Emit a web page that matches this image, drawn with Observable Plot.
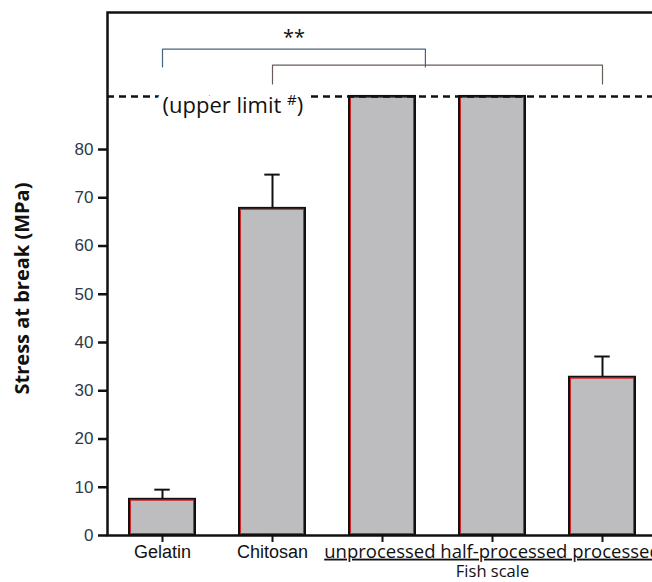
<!DOCTYPE html>
<html><head><meta charset="utf-8">
<script src="https://cdn.jsdelivr.net/npm/d3@7"></script>
<script src="https://cdn.jsdelivr.net/npm/@observablehq/plot@0.6"></script>
<style>
html,body{margin:0;padding:0;background:#fff;overflow:hidden;}
#chart{width:652px;height:582px;overflow:hidden;}
</style></head><body><div id="chart"></div>
<script>
const categories = ["Gelatin", "Chitosan", "unprocessed", "half-processed", "processed"];
const values = [7.5, 67.8, 91, 91, 32.8];
const errors = [2.0, 7.0, null, null, 4.3];
const yTicks = [0, 10, 20, 30, 40, 50, 60, 70, 80];
const upperLimit = 91;
const yMax = 108.4;
const groupLabel = "Fish scale";
const fishGroup = ["unprocessed", "half-processed", "processed"];
const bracketFrom = [0, 1];
const bracketTo = [2.39, 4];
const bracketTop = [100.8, 97.5];
const bracketEnd = [97.1, 93.6];
const bracketColors = ["#46657d", "#6a5c5a"];
const significance = "**";
const yLabel = "Stress at break (MPa)";
const limitLabel = "(upper limit #)";

const bars = categories.map((c, i) => ({i, c, v: values[i], e: errors[i]}));
const errBars = bars.filter(d => d.e != null);
const bracketPts = [];
bracketFrom.forEach((f, k) => {
  const t = bracketTo[k];
  [[f, bracketEnd[k]], [f, bracketTop[k]], [t, bracketTop[k]], [t, bracketEnd[k]]]
    .forEach(([x, y]) => bracketPts.push({b: k, x, y, color: bracketColors[k]}));
});
const fishIdx = categories.indexOf(fishGroup[Math.floor(fishGroup.length / 2)]);
const limitText = {x: 0, y: upperLimit, text: d => d, textAnchor: "start", lineAnchor: "middle", dy: 9.5,
  fontSize: 22, fontFamily: "'Open Sans', sans-serif"};

const chart = Plot.plot({
  width: 660,
  height: 582,
  marginLeft: 107,
  marginRight: 3,
  marginTop: 12,
  marginBottom: 47,
  style: {fontFamily: "'Liberation Sans', Arial, sans-serif", background: "white", overflow: "visible", maxWidth: "none"},
  x: {domain: [-0.5, categories.length - 0.5]},
  y: {domain: [0, yMax]},
  marks: [
    Plot.rectY(bars, {x1: d => d.i - 0.3, x2: d => d.i + 0.3, y: "v", fill: "#bdbdbf", stroke: "#111", strokeWidth: 2}),
    Plot.rectY(bars, {x1: d => d.i - 0.3, x2: d => d.i + 0.3, y: "v", fill: "none", stroke: "#d02828", strokeWidth: 1, inset: 1.5}),
    Plot.ruleX(errBars, {x: "i", y1: "v", y2: d => d.v + d.e, stroke: "#111", strokeWidth: 2}),
    Plot.ruleY(errBars, {x1: d => d.i - 0.07, x2: d => d.i + 0.07, y: d => d.v + d.e, stroke: "#111", strokeWidth: 2}),
    Plot.ruleY([upperLimit], {stroke: "#111", strokeWidth: 2.5, strokeDasharray: "7,5"}),
    Plot.text([limitLabel], {...limitText, fill: "white", stroke: "white", strokeWidth: 14}),
    Plot.text([limitLabel], {...limitText, fill: "#111"}),
    Plot.line(bracketPts, {x: "x", y: "y", z: "b", stroke: "color", strokeWidth: 1.2}),
    Plot.text([significance], {x: (bracketFrom[0] + bracketTo[0]) / 2, y: bracketTop[0], text: d => d, dy: -12,
      fontSize: 20, fontFamily: "'Open Sans', sans-serif", fill: "#111"}),
    Plot.frame({stroke: "#111", strokeWidth: 2.5}),
    Plot.axisY({ticks: yTicks, tickSize: 9, tickPadding: 5, fontSize: 17, strokeWidth: 2.5, stroke: "#111", fill: "#2e3a46"}),
    Plot.axisX({ticks: categories.map((c, i) => i), tickSize: 7, tickPadding: 3, fontSize: 18, strokeWidth: 2, stroke: "#111", fill: "#111",
      tickFormat: i => fishGroup.includes(categories[i]) ? "" : categories[i]}),
    Plot.text([fishGroup.join(" ")], {x: fishIdx, frameAnchor: "bottom", lineAnchor: "top", dy: 9, text: d => d,
      fontSize: 18.5, fontFamily: "'Open Sans', sans-serif", fill: "#111"}),
    Plot.text([groupLabel], {x: fishIdx, frameAnchor: "bottom", lineAnchor: "middle", dy: 36.5, text: d => d,
      fontSize: 16.5, fontFamily: "'Open Sans', sans-serif", fill: "#111"}),
    Plot.text([yLabel], {frameAnchor: "left", textAnchor: "middle", rotate: -90, dx: -85, dy: 14.5, text: d => d,
      fontSize: 20, fontWeight: "bold", fontFamily: "'Open Sans', sans-serif", fill: "#111"})
  ]
});
document.getElementById("chart").appendChild(chart);

const fishText = fishGroup.join(" ");
const ns = "http://www.w3.org/2000/svg";
chart.querySelectorAll("text").forEach(t => {
  if (t.textContent === limitLabel) {
    // superscript "#" in the upper-limit label
    const parts = limitLabel.split("#");
    t.textContent = "";
    const a = document.createElementNS(ns, "tspan"); a.textContent = parts[0];
    const s = document.createElementNS(ns, "tspan"); s.textContent = "#"; s.setAttribute("font-size", "15"); s.setAttribute("dy", "-8");
    const b = document.createElementNS(ns, "tspan"); b.textContent = parts[1]; b.setAttribute("dy", "8");
    t.append(a, s, b);
  } else if (t.textContent === fishText) {
    t.style.textDecoration = "underline";
  }
});
</script></body></html>
